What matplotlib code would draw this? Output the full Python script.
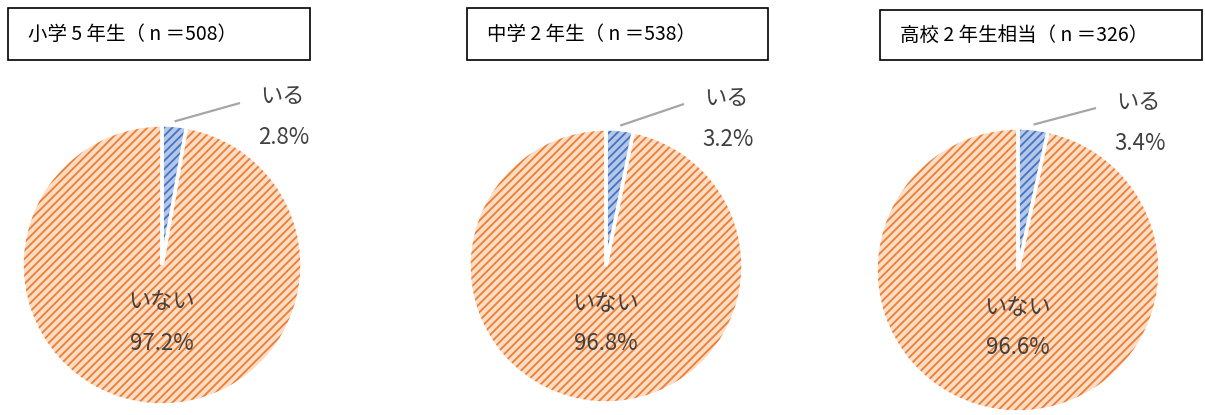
import numpy as np
import matplotlib
matplotlib.use('Agg')
import matplotlib.pyplot as plt
from matplotlib.patches import Rectangle

plt.rcParams['font.family'] = ['Noto Sans CJK JP', 'DejaVu Sans']
plt.rcParams['hatch.linewidth'] = 1.3

# survey groups and answer shares (%)
titles = ['小学 5 年生（ n ＝508）', '中学 2 年生（ n ＝538）', '高校 2 年生相当（ n ＝326）']
answers = ['いる', 'いない']
share_yes = [2.8, 3.2, 3.4]
share_no = [97.2, 96.8, 96.6]

# layout in figure pixels (y measured from the top)
W, H = 1205, 415
centers = [(162, 265), (606, 266), (1018, 270)]
radii = [140, 137, 142]
boxes = [(8, 8, 302, 52), (467, 8, 301, 52), (880, 10, 322, 50)]

face = ['#b4c7e7', '#fbdcc5']
hatch_col = ['#4472c4', '#ed7d31']
txt_col = '#404040'

fig = plt.figure(figsize=(W / 100, H / 100), dpi=100)
ax = fig.add_axes([0, 0, 1, 1])

for i in range(3):
    cx, cy = centers[i]
    cy = H - cy
    r = radii[i]
    vals = [share_yes[i], share_no[i]]
    expl = [0.025, 0]
    # hatched fill, hatch colour comes from the edge colour
    w1, _ = ax.pie(vals, center=(cx, cy), radius=r, startangle=90, counterclock=False,
                   explode=expl, colors=face,
                   wedgeprops=dict(linewidth=0, hatch='////'))
    for w, hc in zip(w1, hatch_col):
        w.set_edgecolor(hc)
    # white outline on top to separate the slices
    ax.pie(vals, center=(cx, cy), radius=r, startangle=90, counterclock=False,
           explode=expl, colors=['none', 'none'],
           wedgeprops=dict(linewidth=2.5, edgecolor='white'))

    # leader line and label for the small slice
    mid = np.deg2rad(90 - vals[0] * 3.6 / 2)
    sx = cx + r * 1.03 * np.cos(mid)
    sy = cy + r * 1.03 * np.sin(mid)
    lx, ly = cx + 120, cy + 168
    ax.plot([sx, lx - 42], [sy, ly - 6], color='#a6a6a6', lw=1.6, solid_capstyle='butt')
    ax.text(lx, ly, answers[0], ha='center', va='center', fontsize=16, color=txt_col)
    ax.text(lx + 2, ly - 41, f'{vals[0]:.1f}%', ha='center', va='center', fontsize=16, color=txt_col)

    # label inside the large slice
    ax.text(cx, cy - 37, answers[1], ha='center', va='center', fontsize=16, color=txt_col)
    ax.text(cx, cy - 78, f'{vals[1]:.1f}%', ha='center', va='center', fontsize=16, color=txt_col)

    # title box
    bx, by, bw, bh = boxes[i]
    ax.add_patch(Rectangle((bx, H - by - bh), bw, bh, fill=False, edgecolor='black', lw=1.2))
    ax.text(bx + 20, H - by - bh / 2, titles[i], ha='left', va='center', fontsize=14, color='#000000')

ax.set_xlim(0, W)
ax.set_ylim(0, H)
ax.set_aspect('equal')
ax.axis('off')

fig.savefig('out.png', dpi=100)
